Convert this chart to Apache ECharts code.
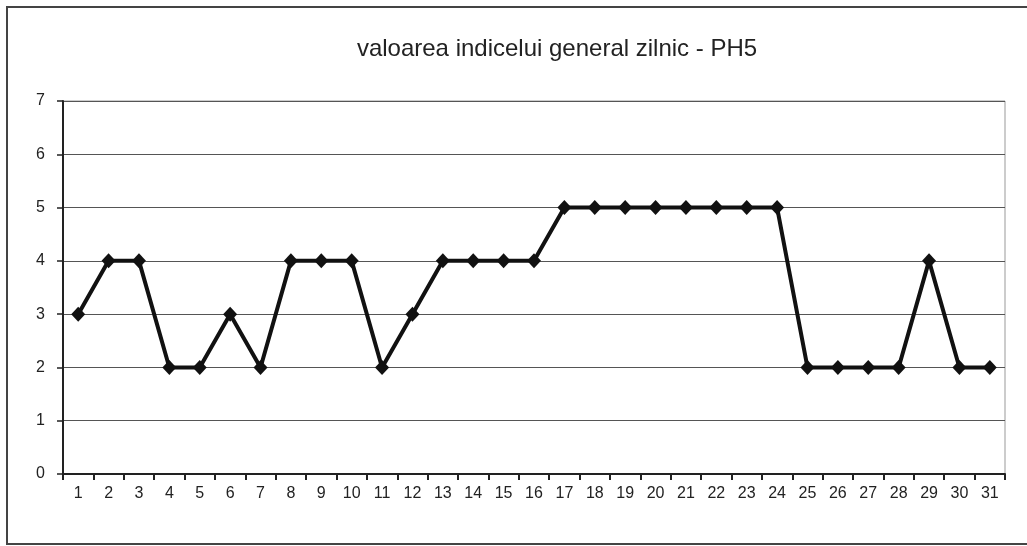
<!DOCTYPE html>
<html><head><meta charset="utf-8">
<script src="https://cdn.jsdelivr.net/npm/echarts@6/dist/echarts.min.js"></script>
<style>html,body{margin:0;padding:0;background:#fff}#c{width:1027px;height:546px}</style>
</head><body><div id="c"></div>
<script>
const titleText = 'valoarea indicelui general zilnic - PH5';
const days = ['1','2','3','4','5','6','7','8','9','10','11','12','13','14','15','16','17','18','19','20','21','22','23','24','25','26','27','28','29','30','31'];
const values = [3,4,4,2,2,3,2,4,4,4,2,3,4,4,4,4,5,5,5,5,5,5,5,5,2,2,2,2,4,2,2];
const yTicks = [0,1,2,3,4,5,6,7];

const chart = echarts.init(document.getElementById('c'), null, {renderer:'canvas'});
chart.setOption({
  backgroundColor:'#fff',
  animation:false,
  title:{text:titleText,left:552,top:32,textAlign:'center',
    textStyle:{fontFamily:'Liberation Sans',fontWeight:'normal',fontSize:24,color:'#222'}},
  graphic:[
    {type:'rect',shape:{x:7,y:7,width:1030,height:537},style:{fill:'none',stroke:'#444',lineWidth:2},silent:true},
    {type:'rect',shape:{x:63,y:101,width:942,height:373},style:{fill:'none',stroke:'#999',lineWidth:1},silent:true}
  ],
  grid:{left:63,right:22,top:101,bottom:72,containLabel:false},
  xAxis:{type:'category',data:days,boundaryGap:true,
    axisLine:{lineStyle:{color:'#222',width:2}},
    axisTick:{show:true,inside:false,length:6,lineStyle:{color:'#222',width:2},alignWithLabel:false},
    axisLabel:{fontFamily:'Liberation Sans',fontSize:16,color:'#222',margin:12,interval:0},
    splitLine:{show:false}},
  yAxis:{type:'value',min:0,max:7,interval:1,
    axisLine:{show:true,lineStyle:{color:'#222',width:2}},
    axisTick:{show:true,length:6,lineStyle:{color:'#222',width:1.5}},
    axisLabel:{fontFamily:'Liberation Sans',fontSize:16,color:'#222',margin:18,
      formatter:v=>yTicks.includes(v)?String(v):''},
    splitLine:{show:true,lineStyle:{color:'#555',width:1}}},
  series:[{type:'line',data:values,symbol:'diamond',symbolSize:[14,15],
    lineStyle:{color:'#111',width:4},itemStyle:{color:'#111'}}]
});
</script></body></html>
